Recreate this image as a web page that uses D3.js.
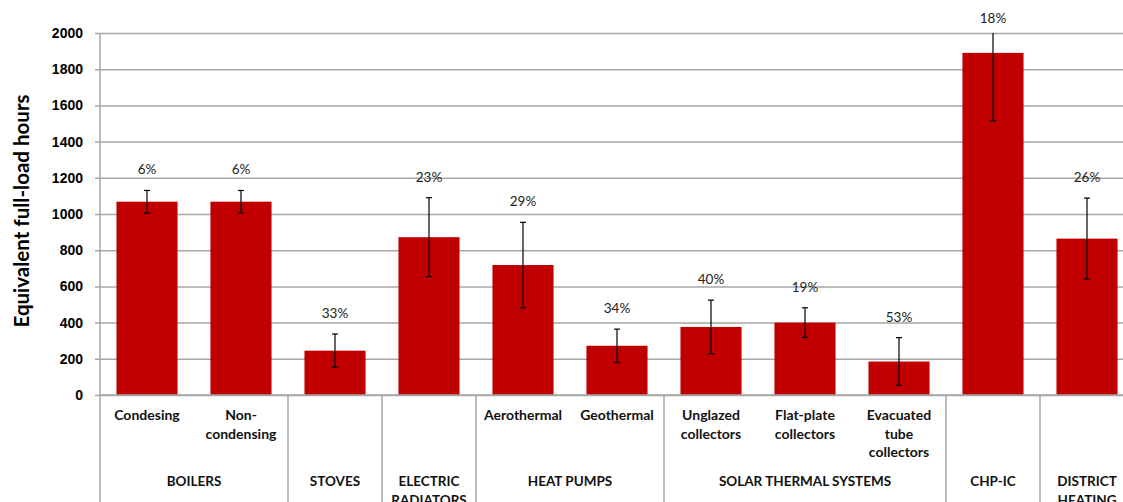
<!DOCTYPE html>
<html>
<head>
<meta charset="utf-8">
<script src="https://cdn.jsdelivr.net/npm/d3@7"></script>
<style>
  body { margin: 0; background: #fff; }
  svg { display: block; font-family: Lato, "Open Sans", sans-serif; }
</style>
</head>
<body>
<svg id="chart"></svg>
<script>
// categories and values
let keys = ['cond', 'noncond', 'stoves', 'elec', 'aero', 'geo', 'ungl', 'flat', 'evac', 'chp', 'dh'];
let subLabels = [['Condesing'], ['Non-', 'condensing'], [], [], ['Aerothermal'], ['Geothermal'],
    ['Unglazed', 'collectors'], ['Flat-plate', 'collectors'], ['Evacuated', 'tube', 'collectors'], [], []];
let hours = [1068, 1068, 245, 872, 718, 272, 376, 400, 185, 1890, 864];
let errors = [62, 62, 92, 218, 236, 92, 148, 82, 132, 375, 224];
let pctLabels = ['6%', '6%', '33%', '23%', '29%', '34%', '40%', '19%', '53%', '18%', '26%'];
let groups = [['BOILERS'], ['STOVES'], ['ELECTRIC', 'RADIATORS'], ['HEAT PUMPS'], ['SOLAR THERMAL SYSTEMS'], ['CHP-IC'], ['DISTRICT', 'HEATING']];
let groupSize = [2, 1, 1, 2, 3, 1, 1];
let yTicks = [0, 200, 400, 600, 800, 1000, 1200, 1400, 1600, 1800, 2000];

let w = 1123;
let h = 502;
let padLeft = 100;
let padTop = 33;
let baseY = 395;
let step = 94;
let yMax = 2000;

let svg = d3.select('#chart').attr('width', w).attr('height', h);

let xScale = d3.scaleBand()
    .domain(keys)
    .range([padLeft, padLeft + step * keys.length])
    .paddingInner(0.35)
    .paddingOuter(0.175);

let yScale = d3.scaleLinear()
    .domain([0, yMax])
    .range([baseY, padTop]);

// gridlines + y axis
let yAxis = d3.axisLeft(yScale)
    .tickValues(yTicks)
    .tickSize(-(w - padLeft + 5))
    .tickPadding(12)
    .tickFormat(d3.format('d'));

let yg = svg.append('g')
    .attr('transform', 'translate(' + (padLeft - 5) + ',0)')
    .call(yAxis);
yg.select('.domain').remove();
yg.selectAll('line').attr('stroke', '#a6a6a6').attr('stroke-width', 1.5);
yg.selectAll('text')
    .attr('font-size', 14)
    .attr('font-weight', 'bold')
    .attr('fill', '#000');

// axis title
svg.append('text')
    .attr('transform', 'translate(29,' + 211 + ') rotate(-90)')
    .attr('text-anchor', 'middle')
    .attr('font-size', 20.5)
    .attr('font-weight', 'bold')
    .text('Equivalent full-load hours');

// bars
let data = keys.map((k, i) => ({ key: k, value: hours[i], err: errors[i], pct: pctLabels[i], sub: subLabels[i] }));

svg.selectAll('.bar')
    .data(data)
    .enter()
    .append('rect')
    .attr('class', 'bar')
    .attr('x', d => xScale(d.key))
    .attr('y', d => yScale(d.value))
    .attr('width', xScale.bandwidth())
    .attr('height', d => yScale(0) - yScale(d.value))
    .attr('fill', '#c00000');

// error bars (clipped at the axis max like the original)
let hi = d => Math.min(d.value + d.err, yMax);
let eb = svg.selectAll('.err')
    .data(data)
    .enter()
    .append('g')
    .attr('class', 'err')
    .attr('stroke', '#000')
    .attr('stroke-width', 1.2);
let cx = d => xScale(d.key) + xScale.bandwidth() / 2;
eb.append('line')
    .attr('x1', cx).attr('x2', cx)
    .attr('y1', d => yScale(hi(d)))
    .attr('y2', d => yScale(d.value - d.err));
eb.filter(d => d.value + d.err <= yMax)
    .append('line')
    .attr('x1', d => cx(d) - 3).attr('x2', d => cx(d) + 3)
    .attr('y1', d => yScale(d.value + d.err))
    .attr('y2', d => yScale(d.value + d.err));
eb.append('line')
    .attr('x1', d => cx(d) - 3).attr('x2', d => cx(d) + 3)
    .attr('y1', d => yScale(d.value - d.err))
    .attr('y2', d => yScale(d.value - d.err));

// percentage labels
svg.selectAll('.pct')
    .data(data)
    .enter()
    .append('text')
    .attr('class', 'pct')
    .attr('x', cx)
    .attr('y', d => Math.max(yScale(hi(d)) - 16, 23))
    .attr('text-anchor', 'middle')
    .attr('font-size', 13.5)
    .attr('fill', '#222')
    .text(d => d.pct);

// x axis baseline and category boxes
svg.append('line')
    .attr('x1', padLeft).attr('x2', w)
    .attr('y1', baseY).attr('y2', baseY)
    .attr('stroke', '#a6a6a6').attr('stroke-width', 1.5);

let gStart = 0;
let bounds = [0];
groupSize.forEach(s => { gStart += s; bounds.push(gStart); });

svg.selectAll('.sep')
    .data(bounds)
    .enter()
    .append('line')
    .attr('class', 'sep')
    .attr('x1', i => padLeft + i * step)
    .attr('x2', i => padLeft + i * step)
    .attr('y1', i => i === 0 ? padTop : baseY)
    .attr('y2', h)
    .attr('stroke', '#a6a6a6')
    .attr('stroke-width', 1.5);

// sub-category labels
let subs = svg.selectAll('.sub')
    .data(data)
    .enter()
    .append('text')
    .attr('class', 'sub')
    .attr('text-anchor', 'middle')
    .attr('font-size', 14)
    .attr('font-weight', 'bold')
    .attr('fill', '#111');
subs.selectAll('tspan')
    .data(d => d.sub.map(t => ({ t: t, x: cx(d) })))
    .enter()
    .append('tspan')
    .attr('x', d => d.x)
    .attr('y', (d, j) => 420 + j * 18.5)
    .text(d => d.t);

// group labels
let gl = svg.selectAll('.grp')
    .data(groups)
    .enter()
    .append('text')
    .attr('class', 'grp')
    .attr('text-anchor', 'middle')
    .attr('font-size', 13.5)
    .attr('font-weight', 'bold')
    .attr('fill', '#111');
gl.selectAll('tspan')
    .data((d, i) => d.map(t => ({ t: t, x: padLeft + (bounds[i] + bounds[i + 1]) / 2 * step })))
    .enter()
    .append('tspan')
    .attr('x', d => d.x)
    .attr('y', (d, j) => 486 + j * 18.5)
    .text(d => d.t);
</script>
</body>
</html>
